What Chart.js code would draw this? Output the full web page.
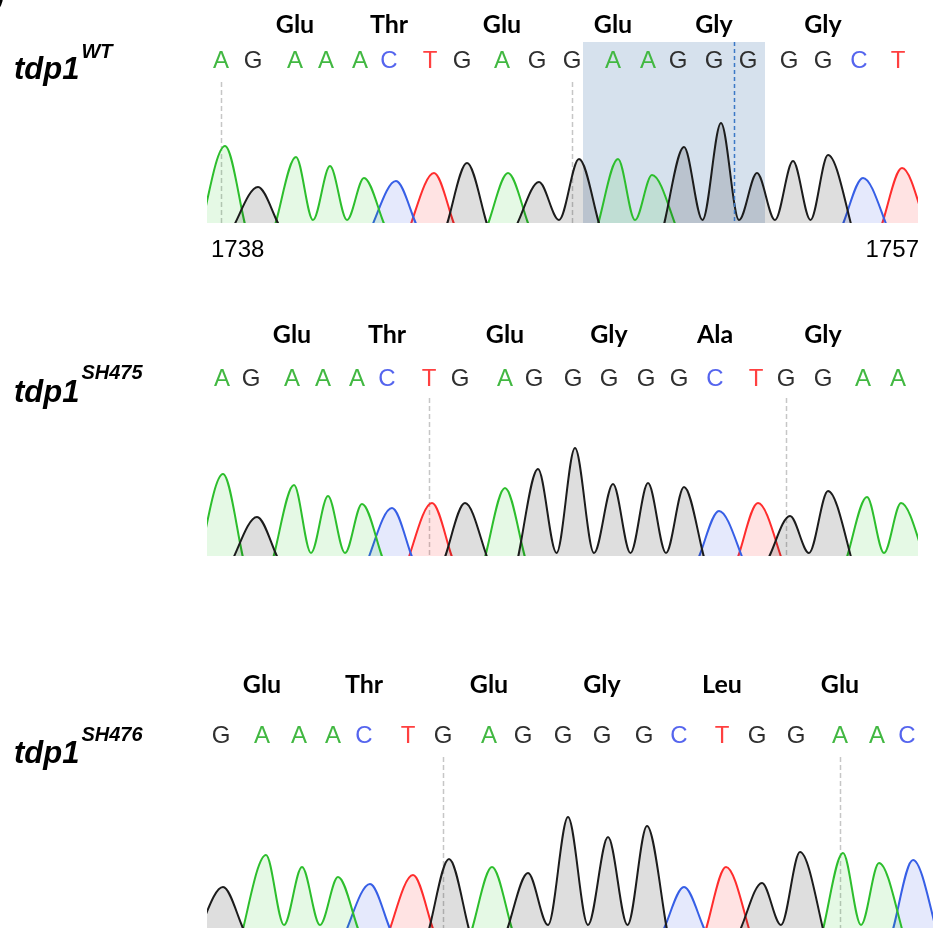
<!DOCTYPE html>
<html><head><meta charset="utf-8">
<script src="https://cdn.jsdelivr.net/npm/chart.js@4.4.1/dist/chart.umd.min.js"></script>
<style>
html,body{margin:0;padding:0;background:#fff;width:933px;height:929px;overflow:hidden}
canvas{position:absolute;left:0;top:0}
</style></head><body>
<canvas id="c1" width="933" height="929"></canvas>
<canvas id="c2" width="933" height="929"></canvas>
<canvas id="c3" width="933" height="929"></canvas>
<script>
// ---------- DATA (scan units along the trace; signal units for peak heights) ----------
// tdp1 WT
const wtBases = ['A','G','A','A','A','C','T','G','A','G','G','A','A','G','G','G','G','G','C','T'];
const wtCallPos = [14,46,88,119,153,182,223,255,295,330,365,406,441,471,507,541,582,616,652,691];
const wtPeakPos = [18,51,89,123,157,189,227,260,301,332,372,411,445,477,514,550,586,621,656,695];
const wtPeakHeights = [77,36,66,57,45,42,50,60,50,41,64,64,48,76,100,50,62,68,45,55];
const wtAminoAcids = ['Glu','Thr','Glu','Glu','Gly','Gly'];
const wtFrame = 1;
const wtMarkers = [0,10];
const wtPositionLabels = ['1738','1757'];
const wtHighlight = [376,558];
const wtCursor = 527;

// tdp1 SH475
const sh475Bases = ['A','G','A','A','A','C','T','G','A','G','G','G','G','G','C','T','G','G','A','A'];
const sh475CallPos = [15,44,85,116,150,180,222,253,298,327,366,402,439,472,508,549,579,616,656,691];
const sh475PeakPos = [16,50,87,121,155,185,225,258,298,331,368,406,441,477,512,551,583,621,660,694];
const sh475PeakHeights = [82,39,71,60,52,48,53,53,68,87,108,72,73,69,45,53,40,65,59,53];
const sh475AminoAcids = ['Glu','Thr','Glu','Gly','Ala','Gly'];
const sh475Frame = 1;
const sh475Markers = [6,16];

// tdp1 SH476
const sh476Bases = ['G','A','A','A','C','T','G','A','G','G','G','G','C','T','G','G','A','A','C'];
const sh476CallPos = [14,55,92,126,157,201,236,282,316,356,395,437,472,515,550,589,633,670,700];
const sh476PeakPos = [16,59,95,131,163,206,242,285,321,361,401,440,477,519,555,593,636,672,706];
const sh476PeakHeights = [41,73,61,51,44,53,69,61,55,111,91,102,41,61,45,76,75,65,68];
const sh476AminoAcids = ['Glu','Thr','Glu','Gly','Leu','Glu'];
const sh476Frame = 0;
const sh476Markers = [6,16];

// ---------- STYLE ----------
const LINE = {A:'rgb(45,190,45)', C:'rgb(55,95,230)', G:'rgb(28,28,28)', T:'rgb(255,45,45)'};
const FILL = {A:'rgba(0,200,0,0.10)', C:'rgba(40,70,230,0.12)', G:'rgba(0,0,0,0.13)', T:'rgba(255,0,0,0.11)'};
const TEXT = {A:'#42b842', C:'#5565ee', G:'#2f2f2f', T:'#ff4040'};
const FOOT = 28, FOOT_DEPTH = 0.28, VALLEY = 3;

function channelPoints(bases, pos, h, ch) {
  const pts = [];
  for (let i = 0; i < bases.length; i++) {
    if (bases[i] !== ch) continue;
    const prevSame = i > 0 && bases[i-1] === ch;
    const nextSame = i < bases.length - 1 && bases[i+1] === ch;
    if (prevSame) pts.push({x:(pos[i-1] + pos[i]) / 2, y:VALLEY});
    else pts.push({x:pos[i] - FOOT, y:-FOOT_DEPTH * h[i]});
    pts.push({x:pos[i], y:h[i]});
    if (!nextSame) pts.push({x:pos[i] + FOOT, y:-FOOT_DEPTH * h[i]});
  }
  return pts;
}

function makePanel(id, p) {
  const datasets = ['G','A','C','T'].map(ch => ({
    label: ch,
    data: channelPoints(p.bases, p.peakPos, p.heights, ch),
    borderColor: LINE[ch],
    backgroundColor: FILL[ch],
    borderWidth: 2,
    pointRadius: 0,
    fill: 'origin',
    cubicInterpolationMode: 'monotone',
    clip: {left: 0, right: 0, bottom: 0, top: false}
  }));
  const overlay = {
    id: 'overlay' + id,
    beforeDatasetsDraw(chart) {
      const ctx = chart.ctx, a = chart.chartArea, xs = chart.scales.x;
      ctx.save();
      if (p.highlight) {
        const x0 = xs.getPixelForValue(p.highlight[0]), x1 = xs.getPixelForValue(p.highlight[1]);
        ctx.fillStyle = '#d6e1ed';
        ctx.fillRect(x0, a.top, x1 - x0, a.bottom - a.top);
      }
      ctx.strokeStyle = '#c6c6c6'; ctx.lineWidth = 1.5; ctx.setLineDash([5,3]);
      p.markers.forEach(i => {
        const x = Math.round(xs.getPixelForValue(p.callPos[i])) + 0.5;
        ctx.beginPath(); ctx.moveTo(x, p.markerTop); ctx.lineTo(x, a.bottom); ctx.stroke();
      });
      ctx.restore();
    },
    afterDatasetsDraw(chart) {
      if (p.cursor == null) return;
      const ctx = chart.ctx, a = chart.chartArea, xs = chart.scales.x;
      const x = Math.round(xs.getPixelForValue(p.cursor)) + 0.5;
      ctx.save();
      ctx.strokeStyle = '#3b78c6'; ctx.lineWidth = 1.5; ctx.setLineDash([4,3]);
      ctx.beginPath(); ctx.moveTo(x, a.top); ctx.lineTo(x, a.bottom); ctx.stroke();
      ctx.restore();
    },
    afterDraw(chart) {
      const ctx = chart.ctx, a = chart.chartArea, xs = chart.scales.x;
      ctx.save();
      ctx.textAlign = 'center'; ctx.textBaseline = 'alphabetic';
      ctx.font = '24px "Liberation Sans"';
      p.bases.forEach((b, i) => {
        ctx.fillStyle = TEXT[b];
        ctx.fillText(b, xs.getPixelForValue(p.callPos[i]), p.letterBase);
      });
      ctx.font = 'bold 25px Lato';
      ctx.fillStyle = '#000';
      p.aa.forEach((aa, k) => {
        const mid = p.frame + 3 * k + 1;
        ctx.fillText(aa, xs.getPixelForValue(p.callPos[mid]), p.aaBase);
      });
      // sample label
      ctx.textAlign = 'left';
      ctx.font = 'italic bold 31px "Liberation Sans"';
      ctx.fillText('tdp1', 14, p.labelBase);
      const w = ctx.measureText('tdp1').width;
      ctx.font = 'italic bold 20px "Liberation Sans"';
      ctx.fillText(p.sup, 14 + w + 2, p.supBase);
      if (p.posLabels) {
        ctx.font = '24px "Liberation Sans"';
        ctx.fillText(p.posLabels[0], a.left + 4, 257);
        ctx.textAlign = 'right';
        ctx.fillText(p.posLabels[1], a.right + 1, 257);
      }
      if (p.corner) {
        ctx.textAlign = 'left';
        ctx.font = 'italic bold 30px "Liberation Sans"';
        ctx.fillText(')', -6, 7);
      }
      ctx.restore();
    }
  };
  return new Chart(document.getElementById(id), {
    type: 'line',
    data: {datasets},
    options: {
      responsive: false, animation: false, events: [],
      layout: {padding: p.pad},
      plugins: {legend: {display: false}, tooltip: {enabled: false}, title: {display: false}},
      scales: {
        x: {type: 'linear', min: 0, max: p.xMax, display: false},
        y: {min: 0, max: p.yMax, display: false}
      }
    },
    plugins: [overlay]
  });
}

makePanel('c1', {
  bases: wtBases, callPos: wtCallPos, peakPos: wtPeakPos, heights: wtPeakHeights,
  aa: wtAminoAcids, frame: wtFrame, markers: wtMarkers, posLabels: wtPositionLabels,
  highlight: wtHighlight, cursor: wtCursor, sup: 'WT', corner: true,
  pad: {left: 207, right: 15, top: 42, bottom: 706}, xMax: 711, yMax: 181,
  letterBase: 68, aaBase: 33, markerTop: 82, labelBase: 79, supBase: 58
});
makePanel('c2', {
  bases: sh475Bases, callPos: sh475CallPos, peakPos: sh475PeakPos, heights: sh475PeakHeights,
  aa: sh475AminoAcids, frame: sh475Frame, markers: sh475Markers, sup: 'SH475',
  pad: {left: 207, right: 15, top: 390, bottom: 373}, xMax: 711, yMax: 166,
  letterBase: 386, aaBase: 343, markerTop: 398, labelBase: 402, supBase: 379
});
makePanel('c3', {
  bases: sh476Bases, callPos: sh476CallPos, peakPos: sh476PeakPos, heights: sh476PeakHeights,
  aa: sh476AminoAcids, frame: sh476Frame, markers: sh476Markers, sup: 'SH476',
  pad: {left: 207, right: 0, top: 750, bottom: 1}, xMax: 726, yMax: 178,
  letterBase: 743, aaBase: 693, markerTop: 757, labelBase: 763, supBase: 741
});
</script>
</body></html>
